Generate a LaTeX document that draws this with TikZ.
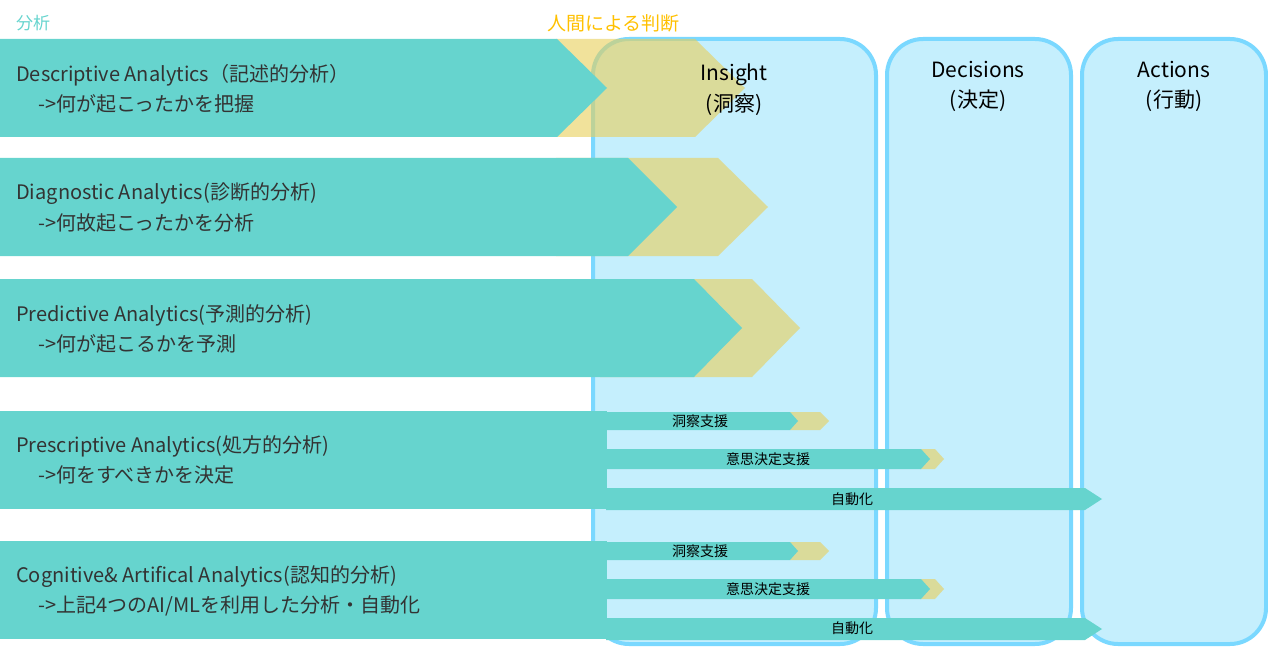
\documentclass[tikz,border=0pt]{standalone}
\usepackage{fontspec}
\setmainfont{Noto Sans CJK JP}
\begin{document}
\begin{tikzpicture}[x=1pt,y=-1pt,
  colbox/.style={draw=colline,line width=4pt,fill=colfill,rounded corners=36pt},
  teal/.style={fill=tealc},
  yel/.style={fill=yelc,fill opacity=0.6},
  rowtxt/.style={anchor=west,font=\fontsize{20}{24}\selectfont,text=txt,inner sep=0pt},
  head/.style={font=\fontsize{21}{25}\selectfont,inner sep=0pt},
  small/.style={font=\fontsize{14}{16}\selectfont,inner sep=0pt}]
\definecolor{colline}{HTML}{7AD8FF}
\definecolor{colfill}{HTML}{C5EFFD}
\definecolor{tealc}{HTML}{66D4CE}
\definecolor{yelc}{HTML}{E8CE58}
\definecolor{txt}{HTML}{333333}
\definecolor{orng}{HTML}{FFC000}
\useasboundingbox (0,0) rectangle (1268,647);
% columns
\draw[colbox] (593,39) rectangle (876,644);
\draw[colbox] (887,39) rectangle (1071,644);
\draw[colbox] (1082,39) rectangle (1266,644);
% yellow chevrons
\fill[yel] (556,39) -- (695,39) -- (745,88) -- (695,137) -- (556,137) -- cycle;
\fill[yel] (556,158) -- (718,158) -- (768,207) -- (718,256) -- (556,256) -- cycle;
\fill[yel] (600,279) -- (752,279) -- (800,328) -- (752,377) -- (600,377) -- cycle;
% teal rows
\fill[teal] (0,39) -- (557,39) -- (607,88) -- (557,137) -- (0,137) -- cycle;
\fill[teal] (0,158) -- (628,158) -- (677,207) -- (628,256) -- (0,256) -- cycle;
\fill[teal] (0,279) -- (694,279) -- (742,328) -- (694,377) -- (0,377) -- cycle;
\fill[teal] (0,411) rectangle (607,509);
\fill[teal] (0,541) rectangle (607,639);
% small arrows
\foreach \o in {0,130}{
 \fill[yel] (790,412+\o) -- (820,412+\o) -- (829,421+\o) -- (820,430+\o) -- (790,430+\o) -- cycle;
 \fill[teal] (606,412+\o) -- (790,412+\o) -- (798,421+\o) -- (790,430+\o) -- (606,430+\o) -- cycle;
 \fill[yel] (920,449+\o) -- (935,449+\o) -- (944,459+\o) -- (935,469+\o) -- (920,469+\o) -- cycle;
 \fill[teal] (606,449+\o) -- (921,449+\o) -- (930,459+\o) -- (921,469+\o) -- (606,469+\o) -- cycle;
 \fill[teal] (606,488+\o) -- (1085,488+\o) -- (1102,499+\o) -- (1085,510+\o) -- (606,510+\o) -- cycle;
}
\node[small] (s1) at (700,421) {洞察支援};
\node[small] (s2) at (768,459) {意思決定支援};
\node[small] (s3) at (852,499) {自動化};
\node[small] (s4) at (700,551) {洞察支援};
\node[small] (s5) at (768,589) {意思決定支援};
\node[small] (s6) at (852,628) {自動化};
% headings
\node[font=\fontsize{17}{20}\selectfont,text=tealc,anchor=west,inner sep=0pt] (l1) at (16,23) {分析};
\node[font=\fontsize{19}{22}\selectfont,text=orng,anchor=west,inner sep=0pt] (l2) at (547,23) {人間による判断};
\node[head] (h1) at (734,75) {Insight};
\node[head] (h1b) at (734,105) {(洞察)};
\node[head] (h2) at (978,70) {Decisions};
\node[head] (h2b) at (978,101) {(決定)};
\node[head] (h3) at (1174,70) {Actions};
\node[head] (h3b) at (1174,101) {(行動)};
% row texts
\node[rowtxt] (r1a) at (16,75) {Descriptive Analytics（記述的分析）};
\node[rowtxt] (r1b) at (38,104) {->何が起こったかを把握};
\node[rowtxt] (r2a) at (16,194) {Diagnostic Analytics(診断的分析)};
\node[rowtxt] (r2b) at (38,223) {->何故起こったかを分析};
\node[rowtxt] (r3a) at (16,315) {Predictive Analytics(予測的分析)};
\node[rowtxt] (r3b) at (38,344) {->何が起こるかを予測};
\node[rowtxt] (r4a) at (16,446) {Prescriptive Analytics(処方的分析)};
\node[rowtxt] (r4b) at (38,475) {->何をすべきかを決定};
\node[rowtxt] (r5a) at (16,577) {Cognitive\& Artifical Analytics(認知的分析)};
\node[rowtxt] (r5b) at (38,606) {->上記4つのAI/MLを利用した分析・自動化};
\end{tikzpicture}
\end{document}
